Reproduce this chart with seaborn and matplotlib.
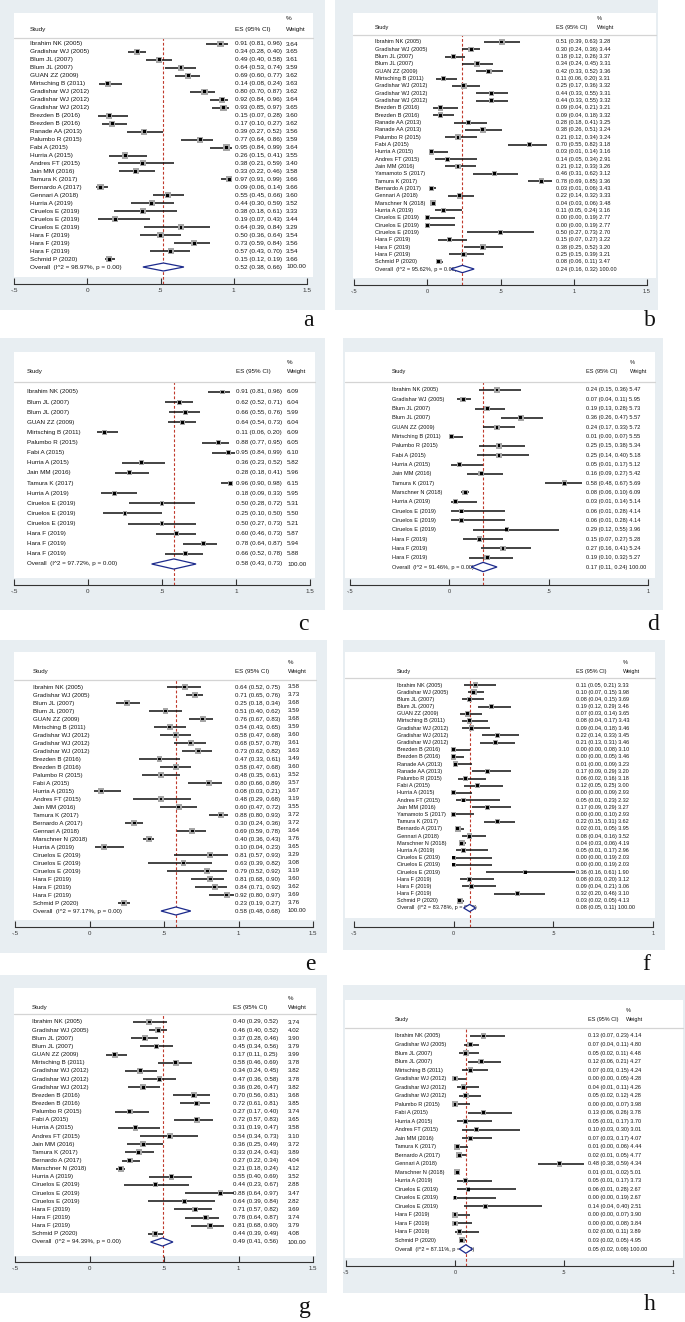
import numpy as np
import seaborn as sns
import matplotlib
matplotlib.use("Agg")
from matplotlib import pyplot as plt
from matplotlib import transforms
from matplotlib.patches import Rectangle, Polygon
from matplotlib.lines import Line2D

W, H = 685, 1322

# ---------------- data ----------------
a_names = ["Ibrahim NK (2005)", "Gradishar WJ (2005)", "Blum JL (2007)", "Blum JL (2007)",
           "GUAN ZZ (2009)", "Mirtsching B (2011)", "Gradishar WJ (2012)", "Gradishar WJ (2012)",
           "Gradishar WJ (2012)", "Brezden B (2016)", "Brezden B (2016)", "Ranade AA (2013)",
           "Palumbo R (2015)", "Fabi A (2015)", "Hurria A (2015)", "Andres FT (2015)",
           "Jain MM (2016)", "Tamura K (2017)", "Bernardo A (2017)", "Gennari A (2018)",
           "Hurria A (2019)", "Ciruelos E (2019)", "Ciruelos E (2019)", "Ciruelos E (2019)",
           "Hara F (2019)", "Hara F (2019)", "Hara F (2019)", "Schmid P (2020)"]
a_es = [0.91, 0.34, 0.49, 0.64, 0.69, 0.14, 0.80, 0.92, 0.93, 0.15, 0.17, 0.39, 0.77, 0.95,
        0.26, 0.38, 0.33, 0.97, 0.09, 0.55, 0.44, 0.38, 0.19, 0.64, 0.50, 0.73, 0.57, 0.15]
a_lo = [0.81, 0.28, 0.40, 0.53, 0.60, 0.08, 0.70, 0.84, 0.85, 0.07, 0.10, 0.27, 0.64, 0.84,
        0.15, 0.21, 0.22, 0.91, 0.06, 0.45, 0.30, 0.18, 0.07, 0.39, 0.36, 0.59, 0.43, 0.12]
a_hi = [0.96, 0.40, 0.58, 0.74, 0.77, 0.24, 0.87, 0.96, 0.97, 0.28, 0.27, 0.52, 0.86, 0.99,
        0.41, 0.59, 0.46, 0.99, 0.14, 0.66, 0.59, 0.61, 0.43, 0.84, 0.64, 0.84, 0.70, 0.19]
a_wt = [3.64, 3.65, 3.61, 3.59, 3.62, 3.63, 3.62, 3.64, 3.65, 3.60, 3.62, 3.56, 3.59, 3.64,
        3.55, 3.40, 3.58, 3.66, 3.66, 3.60, 3.52, 3.33, 3.44, 3.29, 3.54, 3.56, 3.54, 3.66]
a_overall = (0.52, 0.38, 0.66)
a_i2 = "98.97%"

b_names = ["Ibrahim NK (2005)", "Gradishar WJ (2005)", "Blum JL (2007)", "Blum JL (2007)",
           "GUAN ZZ (2009)", "Mirtsching B (2011)", "Gradishar WJ (2012)", "Gradishar WJ (2012)",
           "Gradishar WJ (2012)", "Brezden B (2016)", "Brezden B (2016)", "Ranade AA (2013)",
           "Ranade AA (2013)", "Palumbo R (2015)", "Fabi A (2015)", "Hurria A (2015)",
           "Andres FT (2015)", "Jain MM (2016)", "Yamamoto S (2017)", "Tamura K (2017)",
           "Bernardo A (2017)", "Gennari A (2018)", "Marschner N (2018)", "Hurria A (2019)",
           "Ciruelos E (2019)", "Ciruelos E (2019)", "Ciruelos E (2019)", "Hara F (2019)",
           "Hara F (2019)", "Hara F (2019)", "Schmid P (2020)"]
b_es = [0.51, 0.30, 0.18, 0.34, 0.42, 0.11, 0.25, 0.44, 0.44, 0.09, 0.09, 0.28, 0.38, 0.21,
        0.70, 0.03, 0.14, 0.21, 0.46, 0.78, 0.03, 0.22, 0.04, 0.11, 0.00, 0.00, 0.50, 0.15,
        0.38, 0.25, 0.08]
b_lo = [0.39, 0.24, 0.12, 0.24, 0.33, 0.06, 0.17, 0.33, 0.33, 0.04, 0.04, 0.18, 0.26, 0.12,
        0.55, 0.01, 0.05, 0.12, 0.31, 0.69, 0.01, 0.14, 0.03, 0.05, 0.00, 0.00, 0.27, 0.07,
        0.25, 0.15, 0.06]
b_hi = [0.63, 0.36, 0.26, 0.45, 0.52, 0.20, 0.36, 0.55, 0.55, 0.21, 0.18, 0.41, 0.51, 0.34,
        0.82, 0.14, 0.34, 0.33, 0.62, 0.85, 0.06, 0.32, 0.06, 0.24, 0.19, 0.19, 0.73, 0.27,
        0.52, 0.39, 0.11]
b_wt = [3.28, 3.44, 3.37, 3.31, 3.36, 3.31, 3.32, 3.31, 3.32, 3.21, 3.32, 3.25, 3.24, 3.24,
        3.18, 3.16, 2.91, 3.26, 3.12, 3.36, 3.43, 3.33, 3.48, 3.16, 2.77, 2.77, 2.70, 3.22,
        3.20, 3.21, 3.47]
b_overall = (0.24, 0.16, 0.32)
b_i2 = "95.62%"

c_names = ["Ibrahim NK (2005)", "Blum JL (2007)", "Blum JL (2007)", "GUAN ZZ (2009)",
           "Mirtsching B (2011)", "Palumbo R (2015)", "Fabi A (2015)", "Hurria A (2015)",
           "Jain MM (2016)", "Tamura K (2017)", "Hurria A (2019)", "Ciruelos E (2019)",
           "Ciruelos E (2019)", "Ciruelos E (2019)", "Hara F (2019)", "Hara F (2019)",
           "Hara F (2019)"]
c_es = [0.91, 0.62, 0.66, 0.64, 0.11, 0.88, 0.95, 0.36, 0.28, 0.96, 0.18, 0.50, 0.25, 0.50,
        0.60, 0.78, 0.66]
c_lo = [0.81, 0.52, 0.55, 0.54, 0.06, 0.77, 0.84, 0.23, 0.18, 0.90, 0.09, 0.28, 0.10, 0.27,
        0.46, 0.64, 0.52]
c_hi = [0.96, 0.71, 0.76, 0.73, 0.20, 0.95, 0.99, 0.52, 0.41, 0.98, 0.33, 0.72, 0.50, 0.73,
        0.73, 0.87, 0.78]
c_wt = [6.09, 6.04, 5.99, 6.04, 6.09, 6.05, 6.10, 5.82, 5.96, 6.15, 5.95, 5.31, 5.50, 5.21,
        5.87, 5.94, 5.88]
c_overall = (0.58, 0.43, 0.73)
c_i2 = "97.72%"

d_names = ["Ibrahim NK (2005)", "Gradishar WJ (2005)", "Blum JL (2007)", "Blum JL (2007)",
           "GUAN ZZ (2009)", "Mirtsching B (2011)", "Palumbo R (2015)", "Fabi A (2015)",
           "Hurria A (2015)", "Jain MM (2016)", "Tamura K (2017)", "Marschner N (2018)",
           "Hurria A (2019)", "Ciruelos E (2019)", "Ciruelos E (2019)", "Ciruelos E (2019)",
           "Hara F (2019)", "Hara F (2019)", "Hara F (2019)"]
d_es = [0.24, 0.07, 0.19, 0.36, 0.24, 0.01, 0.25, 0.25, 0.05, 0.16, 0.58, 0.08, 0.03, 0.06,
        0.06, 0.29, 0.15, 0.27, 0.19]
d_lo = [0.15, 0.04, 0.13, 0.26, 0.17, 0.00, 0.15, 0.14, 0.01, 0.09, 0.48, 0.06, 0.01, 0.01,
        0.01, 0.12, 0.07, 0.16, 0.10]
d_hi = [0.36, 0.11, 0.28, 0.47, 0.33, 0.07, 0.38, 0.40, 0.17, 0.27, 0.67, 0.10, 0.14, 0.28,
        0.28, 0.55, 0.27, 0.41, 0.32]
d_wt = [5.47, 5.95, 5.73, 5.57, 5.72, 5.55, 5.34, 5.18, 5.12, 5.42, 5.69, 6.09, 5.14, 4.14,
        4.14, 3.96, 5.28, 5.24, 5.27]
d_overall = (0.17, 0.11, 0.24)
d_i2 = "91.46%"

e_names = ["Ibrahim NK (2005)", "Gradishar WJ (2005)", "Blum JL (2007)", "Blum JL (2007)",
           "GUAN ZZ (2009)", "Mirtsching B (2011)", "Gradishar WJ (2012)", "Gradishar WJ (2012)",
           "Gradishar WJ (2012)", "Brezden B (2016)", "Brezden B (2016)", "Palumbo R (2015)",
           "Fabi A (2015)", "Hurria A (2015)", "Andres FT (2015)", "Jain MM (2016)",
           "Tamura K (2017)", "Bernardo A (2017)", "Gennari A (2018)", "Marschner N (2018)",
           "Hurria A (2019)", "Ciruelos E (2019)", "Ciruelos E (2019)", "Ciruelos E (2019)",
           "Hara F (2019)", "Hara F (2019)", "Hara F (2019)", "Schmid P (2020)"]
e_es = [0.64, 0.71, 0.25, 0.51, 0.76, 0.54, 0.58, 0.68, 0.73, 0.47, 0.58, 0.48, 0.80, 0.08,
        0.48, 0.60, 0.88, 0.30, 0.69, 0.40, 0.10, 0.81, 0.63, 0.79, 0.81, 0.84, 0.92, 0.23]
e_lo = [0.52, 0.65, 0.18, 0.40, 0.67, 0.43, 0.47, 0.57, 0.62, 0.33, 0.47, 0.35, 0.66, 0.03,
        0.29, 0.47, 0.80, 0.24, 0.59, 0.36, 0.04, 0.57, 0.39, 0.52, 0.68, 0.71, 0.80, 0.19]
e_hi = [0.75, 0.76, 0.34, 0.62, 0.83, 0.65, 0.68, 0.78, 0.82, 0.61, 0.68, 0.61, 0.89, 0.21,
        0.68, 0.72, 0.93, 0.36, 0.78, 0.43, 0.23, 0.93, 0.82, 0.92, 0.90, 0.92, 0.97, 0.27]
e_wt = [3.58, 3.73, 3.68, 3.59, 3.68, 3.59, 3.60, 3.61, 3.63, 3.49, 3.60, 3.52, 3.57, 3.67,
        3.19, 3.55, 3.72, 3.72, 3.64, 3.76, 3.65, 3.29, 3.08, 3.19, 3.60, 3.62, 3.69, 3.76]
e_overall = (0.58, 0.48, 0.68)
e_i2 = "97.17%"

f_names = b_names
f_es = [0.11, 0.10, 0.08, 0.19, 0.07, 0.08, 0.09, 0.22, 0.21, 0.00, 0.00, 0.01, 0.17, 0.06,
        0.12, 0.00, 0.05, 0.17, 0.00, 0.22, 0.02, 0.08, 0.04, 0.05, 0.00, 0.00, 0.36, 0.08,
        0.09, 0.32, 0.03]
f_lo = [0.05, 0.07, 0.04, 0.12, 0.03, 0.04, 0.04, 0.14, 0.13, 0.00, 0.00, 0.00, 0.09, 0.02,
        0.05, 0.00, 0.01, 0.09, 0.00, 0.15, 0.01, 0.04, 0.03, 0.01, 0.00, 0.00, 0.16, 0.03,
        0.04, 0.20, 0.02]
f_hi = [0.21, 0.15, 0.15, 0.29, 0.14, 0.17, 0.18, 0.33, 0.31, 0.08, 0.05, 0.09, 0.29, 0.16,
        0.25, 0.09, 0.23, 0.29, 0.10, 0.31, 0.05, 0.16, 0.06, 0.17, 0.19, 0.19, 0.61, 0.20,
        0.21, 0.46, 0.05]
f_wt = [3.33, 3.98, 3.69, 3.46, 3.65, 3.43, 3.46, 3.45, 3.46, 3.10, 3.46, 3.23, 3.20, 3.18,
        3.00, 2.93, 2.32, 3.27, 2.93, 3.62, 3.95, 3.52, 4.19, 2.96, 2.03, 2.03, 1.90, 3.12,
        3.06, 3.10, 4.13]
f_overall = (0.08, 0.05, 0.11)
f_i2 = "83.78%"

g_names = ["Ibrahim NK (2005)", "Gradishar WJ (2005)", "Blum JL (2007)", "Blum JL (2007)",
           "GUAN ZZ (2009)", "Mirtsching B (2011)", "Gradishar WJ (2012)", "Gradishar WJ (2012)",
           "Gradishar WJ (2012)", "Brezden B (2016)", "Brezden B (2016)", "Palumbo R (2015)",
           "Fabi A (2015)", "Hurria A (2015)", "Andres FT (2015)", "Jain MM (2016)",
           "Tamura K (2017)", "Bernardo A (2017)", "Marschner N (2018)", "Hurria A (2019)",
           "Ciruelos E (2019)", "Ciruelos E (2019)", "Ciruelos E (2019)", "Hara F (2019)",
           "Hara F (2019)", "Hara F (2019)", "Schmid P (2020)"]
g_es = [0.40, 0.46, 0.37, 0.45, 0.17, 0.58, 0.34, 0.47, 0.36, 0.70, 0.72, 0.27, 0.72, 0.31,
        0.54, 0.36, 0.33, 0.27, 0.21, 0.55, 0.44, 0.88, 0.64, 0.71, 0.78, 0.81, 0.44]
g_lo = [0.29, 0.40, 0.28, 0.34, 0.11, 0.46, 0.24, 0.36, 0.26, 0.56, 0.61, 0.17, 0.57, 0.19,
        0.34, 0.25, 0.24, 0.22, 0.18, 0.40, 0.23, 0.64, 0.39, 0.57, 0.64, 0.68, 0.39]
g_hi = [0.52, 0.52, 0.46, 0.56, 0.25, 0.69, 0.45, 0.58, 0.47, 0.81, 0.81, 0.40, 0.83, 0.47,
        0.73, 0.49, 0.43, 0.34, 0.24, 0.69, 0.67, 0.97, 0.84, 0.82, 0.87, 0.90, 0.49]
g_wt = [3.74, 4.02, 3.90, 3.79, 3.99, 3.78, 3.82, 3.78, 3.82, 3.68, 3.85, 3.74, 3.65, 3.58,
        3.10, 3.72, 3.89, 4.04, 4.12, 3.52, 2.88, 3.47, 2.82, 3.69, 3.74, 3.79, 4.08]
g_overall = (0.49, 0.41, 0.56)
g_i2 = "94.39%"

h_names = ["Ibrahim NK (2005)", "Gradishar WJ (2005)", "Blum JL (2007)", "Blum JL (2007)",
           "Mirtsching B (2011)", "Gradishar WJ (2012)", "Gradishar WJ (2012)",
           "Gradishar WJ (2012)", "Palumbo R (2015)", "Fabi A (2015)", "Hurria A (2015)",
           "Andres FT (2015)", "Jain MM (2016)", "Tamura K (2017)", "Bernardo A (2017)",
           "Gennari A (2018)", "Marschner N (2018)", "Hurria A (2019)", "Ciruelos E (2019)",
           "Ciruelos E (2019)", "Ciruelos E (2019)", "Hara F (2019)", "Hara F (2019)",
           "Hara F (2019)", "Schmid P (2020)"]
h_es = [0.13, 0.07, 0.05, 0.12, 0.07, 0.00, 0.04, 0.05, 0.00, 0.13, 0.05, 0.10, 0.07, 0.01,
        0.02, 0.48, 0.01, 0.05, 0.06, 0.00, 0.14, 0.00, 0.00, 0.02, 0.03]
h_lo = [0.07, 0.04, 0.02, 0.06, 0.03, 0.00, 0.01, 0.02, 0.00, 0.06, 0.01, 0.03, 0.03, 0.00,
        0.01, 0.38, 0.01, 0.01, 0.01, 0.00, 0.04, 0.00, 0.00, 0.00, 0.02]
h_hi = [0.23, 0.11, 0.11, 0.21, 0.15, 0.05, 0.11, 0.12, 0.07, 0.26, 0.17, 0.30, 0.17, 0.06,
        0.05, 0.59, 0.02, 0.17, 0.28, 0.19, 0.40, 0.07, 0.08, 0.11, 0.05]
h_wt = [4.14, 4.80, 4.48, 4.27, 4.24, 4.28, 4.26, 4.28, 3.98, 3.78, 3.70, 3.01, 4.07, 4.44,
        4.77, 4.34, 5.01, 3.73, 2.67, 2.67, 2.51, 3.90, 3.84, 3.89, 4.95]
h_overall = (0.05, 0.02, 0.08)
h_i2 = "87.11%"

# ---------------- layout (pixels, y from top) ----------------
LAYOUT = {
    'a': dict(frame=(0, 0, 325, 310), white=(14, 13, 313, 277), head=38, axis_y=284,
              ticks=(14, 307), xmax=1.5, rows=(44, 267), name_x=30, es_x=235, wt_x=286,
              head_y=29, pct_y=19, fs=4.6, box=6.2, label=(308, 321), combined=False),
    'b': dict(frame=(335, 0, 658, 310), white=(353, 13, 656, 278), head=35, axis_y=285,
              ticks=(354, 647), xmax=1.5, rows=(42, 269), name_x=375, es_x=556, wt_x=597,
              head_y=28, pct_y=18, fs=4.1, box=5.6, label=(650, 320), combined=True),
    'c': dict(frame=(0, 338, 325, 610), white=(14, 352, 315, 578), head=382, axis_y=585,
              ticks=(14, 310), xmax=1.5, rows=(392, 564), name_x=27, es_x=236, wt_x=287,
              head_y=372, pct_y=362, fs=4.5, box=5.0, label=(303, 625), combined=False),
    'd': dict(frame=(343, 338, 663, 610), white=(345, 352, 655, 578), head=382, axis_y=585,
              ticks=(350, 648), xmax=1.0, rows=(390, 567), name_x=392, es_x=586, wt_x=630,
              head_y=372, pct_y=362, fs=4.1, box=5.6, label=(653, 625), combined=True),
    'e': dict(frame=(0, 640, 327, 953), white=(14, 652, 316, 920), head=680, axis_y=927,
              ticks=(15, 313), xmax=1.5, rows=(687, 911), name_x=33, es_x=235, wt_x=288,
              head_y=672, pct_y=663, fs=4.4, box=6.0, label=(310, 965), combined=False),
    'f': dict(frame=(343, 640, 665, 950), white=(345, 652, 655, 918), head=678, axis_y=927,
              ticks=(354, 653), xmax=1.0, rows=(685, 908), name_x=397, es_x=576, wt_x=623,
              head_y=671, pct_y=663, fs=4.0, box=6.0, label=(646, 965), combined=True),
    'g': dict(frame=(0, 975, 327, 1293), white=(14, 988, 316, 1256), head=1014, axis_y=1262,
              ticks=(15, 313), xmax=1.5, rows=(1022, 1242), name_x=32, es_x=233, wt_x=288,
              head_y=1007, pct_y=998, fs=4.4, box=6.0, label=(305, 1307), combined=False),
    'h': dict(frame=(343, 985, 685, 1293), white=(345, 1000, 683, 1258), head=1028, axis_y=1266,
              ticks=(346, 673), xmax=1.0, rows=(1036, 1249), name_x=395, es_x=588, wt_x=626,
              head_y=1019, pct_y=1010, fs=4.0, box=6.0, label=(650, 1305), combined=True),
}

BG = '#e8eef2'
TXT = '#141414'
BOX = '#a6a6a6'
NAVY = '#1c2a8c'
RED = '#c0392b'

sns.set_theme(style="white")
plt.rcParams['font.family'] = ['Liberation Sans', 'DejaVu Sans']

fig = plt.figure(figsize=(W / 100, H / 100), dpi=100)


def rect(box, color, z):
    x0, y0, x1, y1 = box
    fig.add_artist(Rectangle((x0 / W, 1 - y1 / H), (x1 - x0) / W, (y1 - y0) / H,
                             transform=fig.transFigure, facecolor=color,
                             edgecolor='none', zorder=z))


def fmt_tick(v):
    s = f"{v:g}"
    return s.replace("0.", ".") if s not in ("0", "1") else s


def forest(key, names, es, lo, hi, wt, overall, i2):
    L = LAYOUT[key]
    fs = L['fs']
    rect(L['frame'], BG, -3)
    rect(L['white'], 'white', -2)

    tx0, tx1 = L['ticks']
    ax = fig.add_axes([tx0 / W, 1 - L['axis_y'] / H, (tx1 - tx0) / W,
                       (L['axis_y'] - L['head']) / H])
    ax.patch.set_facecolor('none')

    n = len(names)
    r0, r1 = L['rows']
    step = (r1 - r0) / n
    ax.set_ylim((L['axis_y'] - r0) / step, (L['head'] - r0) / step)
    ax.set_xlim(-0.5, L['xmax'])

    rows = np.arange(n)
    wt = np.asarray(wt)
    side_px = L['box'] * np.sqrt(wt / wt.max())
    sizes = (side_px * 0.72) ** 2

    ax.axvline(overall[0], color=RED, ls=(0, (2.5, 1.8)), lw=0.8, zorder=1)
    ax.hlines(rows, lo, hi, color='#111111', lw=1.1, zorder=2)
    sns.scatterplot(x=es, y=rows, s=sizes, marker='s', color=BOX, edgecolor='none',
                    ax=ax, legend=False, zorder=3)
    sns.scatterplot(x=es, y=rows, s=4.5, marker='s', color='#000000', edgecolor='none',
                    ax=ax, legend=False, zorder=4)

    o_es, o_lo, o_hi = overall
    ax.add_patch(Polygon([(o_lo, n), (o_es, n - 0.5), (o_hi, n), (o_es, n + 0.5)],
                         closed=True, facecolor='white', edgecolor=NAVY, lw=0.9, zorder=5))

    for s in ('left', 'right', 'top'):
        ax.spines[s].set_visible(False)
    ax.spines['bottom'].set_color('#333333')
    ax.spines['bottom'].set_linewidth(0.8)
    ticks = np.arange(-0.5, L['xmax'] + 0.01, 0.5)
    ax.set_xticks(ticks)
    ax.set_xticklabels([fmt_tick(t) for t in ticks])
    ax.set_yticks([])
    ax.tick_params(axis='x', direction='in', length=4, width=0.8, colors='#333333',
                   labelsize=fs, pad=3, bottom=True)
    ax.set_xlabel('')
    ax.set_ylabel('')

    tr = transforms.blended_transform_factory(fig.transFigure, ax.transData)
    for i, name in enumerate(names):
        ax.text(L['name_x'] / W, i, name, transform=tr, fontsize=fs, color=TXT, va='center')
        ci = f"{es[i]:.2f} ({lo[i]:.2f}, {hi[i]:.2f})"
        if L['combined']:
            ax.text(L['es_x'] / W, i, f"{ci} {wt[i]:.2f}", transform=tr, fontsize=fs,
                    color=TXT, va='center')
        else:
            ax.text(L['es_x'] / W, i, ci, transform=tr, fontsize=fs, color=TXT, va='center')
            ax.text(L['wt_x'] / W, i, f"{wt[i]:.2f}", transform=tr, fontsize=fs,
                    color=TXT, va='center')
    oci = f"{o_es:.2f} ({o_lo:.2f}, {o_hi:.2f})"
    ax.text(L['name_x'] / W, n, f"Overall  (I^2 = {i2}, p = 0.00)", transform=tr,
            fontsize=fs, color=TXT, va='center')
    if L['combined']:
        ax.text(L['es_x'] / W, n, f"{oci} 100.00", transform=tr, fontsize=fs,
                color=TXT, va='center')
    else:
        ax.text(L['es_x'] / W, n, oci, transform=tr, fontsize=fs, color=TXT, va='center')
        ax.text(L['wt_x'] / W, n, "100.00", transform=tr, fontsize=fs, color=TXT, va='center')

    # header
    hy = 1 - L['head_y'] / H
    fig.text(L['name_x'] / W, hy, "Study", fontsize=fs, color=TXT, va='center')
    fig.text(L['es_x'] / W, hy, "ES (95% CI)", fontsize=fs, color=TXT, va='center')
    fig.text(L['wt_x'] / W, hy, "Weight", fontsize=fs, color=TXT, va='center')
    fig.text(L['wt_x'] / W, 1 - L['pct_y'] / H, "%", fontsize=fs, color=TXT, va='center')
    wx0, _, wx1, _ = L['white']
    fig.add_artist(Line2D([wx0 / W, wx1 / W], [1 - L['head'] / H] * 2,
                          transform=fig.transFigure, color='#d4d4d4', lw=0.9))

    lx, ly = L['label']
    fig.text(lx / W, 1 - ly / H, key, fontsize=17, family='Liberation Serif',
             color='#111111', ha='center', va='center')


forest('a', a_names, a_es, a_lo, a_hi, a_wt, a_overall, a_i2)
forest('b', b_names, b_es, b_lo, b_hi, b_wt, b_overall, b_i2)
forest('c', c_names, c_es, c_lo, c_hi, c_wt, c_overall, c_i2)
forest('d', d_names, d_es, d_lo, d_hi, d_wt, d_overall, d_i2)
forest('e', e_names, e_es, e_lo, e_hi, e_wt, e_overall, e_i2)
forest('f', f_names, f_es, f_lo, f_hi, f_wt, f_overall, f_i2)
forest('g', g_names, g_es, g_lo, g_hi, g_wt, g_overall, g_i2)
forest('h', h_names, h_es, h_lo, h_hi, h_wt, h_overall, h_i2)

fig.savefig('out.png', dpi=100)
